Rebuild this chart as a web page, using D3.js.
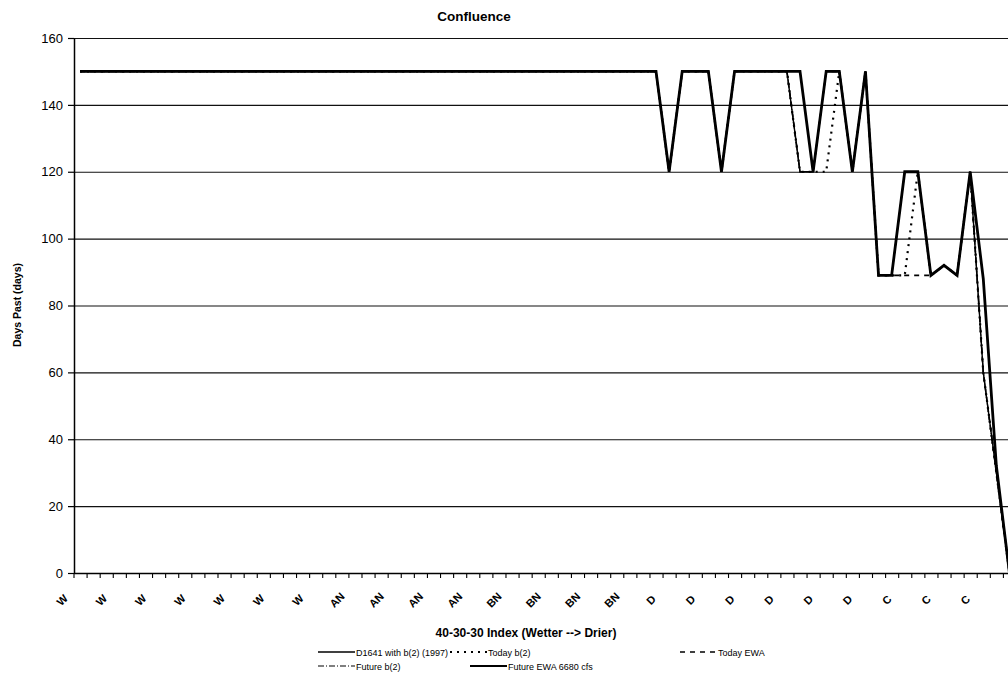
<!DOCTYPE html>
<html>
<head>
<meta charset="utf-8">
<script src="https://cdn.jsdelivr.net/npm/d3@7"></script>
<style>
  html, body { margin: 0; padding: 0; background: #fff; }
  svg { display: block; font-family: "Liberation Sans", Arial, sans-serif; }
  .xlab { transform-box: fill-box; transform-origin: center; }
</style>
</head>
<body>
<svg id="chart" width="1008" height="678"></svg>
<script>
// ---------------- DATA ----------------
const chartTitle = "Confluence";
const xTitle = "40-30-30 Index (Wetter --> Drier)";
const yTitle = "Days Past (days)";

// 72 ranked years (wetter -> drier); one label shown for every third year
const categories = d3.range(72);
const tickLabels = ["W","W","W","W","W","W","W","AN","AN","AN","AN","BN","BN","BN","BN","D","D","D","D","D","D","C","C","C"];
const yTicks = [0, 20, 40, 60, 80, 100, 120, 140, 160];

const d1641 = [150,150,150,150,150,150,150,150,150,150,150,150,150,150,150,150,150,150,150,150,150,150,150,150,
               150,150,150,150,150,150,150,150,150,150,150,150,150,150,150,150,150,150,150,150,150,120,150,150,
               150,120,150,150,150,150,150,120,120,150,150,120,150,89,89,120,120,89,92,89,120,60,30,0];
const todayB2 = [150,150,150,150,150,150,150,150,150,150,150,150,150,150,150,150,150,150,150,150,150,150,150,150,
                 150,150,150,150,150,150,150,150,150,150,150,150,150,150,150,150,150,150,150,150,150,120,150,150,
                 150,120,150,150,150,150,150,120,120,120,150,120,150,89,89,89,120,89,92,89,120,60,30,0];
const todayEWA = [150,150,150,150,150,150,150,150,150,150,150,150,150,150,150,150,150,150,150,150,150,150,150,150,
                  150,150,150,150,150,150,150,150,150,150,150,150,150,150,150,150,150,150,150,150,150,120,150,150,
                  150,120,150,150,150,150,150,120,120,150,150,120,150,89,89,89,89,89,92,89,120,60,30,0];
const futureB2 = [150,150,150,150,150,150,150,150,150,150,150,150,150,150,150,150,150,150,150,150,150,150,150,150,
                  150,150,150,150,150,150,150,150,150,150,150,150,150,150,150,150,150,150,150,150,150,120,150,150,
                  150,120,150,150,150,150,150,120,120,150,150,120,150,89,89,120,120,89,92,89,120,60,30,0];
const futureEWA = [150,150,150,150,150,150,150,150,150,150,150,150,150,150,150,150,150,150,150,150,150,150,150,150,
                   150,150,150,150,150,150,150,150,150,150,150,150,150,150,150,150,150,150,150,150,150,120,150,150,
                   150,120,150,150,150,150,150,150,120,150,150,120,150,89,89,120,120,89,92,89,120,88,32,0];

const seriesNames = ["D1641 with b(2) (1997)", "Today b(2)", "Today EWA", "Future b(2)", "Future EWA 6680 cfs"];
const seriesValues = [d1641, todayB2, todayEWA, futureB2, futureEWA];

// ---------------- STYLE ----------------
const seriesStyle = [
  { width: 1.4, dash: null },
  { width: 2.2, dash: "2,5" },
  { width: 1.6, dash: "5,5" },
  { width: 1.2, dash: "6,2,1,2" },
  { width: 2.8, dash: null }
];

const svg = d3.select("#chart");
const margin = { left: 74, top: 38, bottom: 573, right: 1016 };

const x = d3.scaleBand().domain(categories).range([margin.left - 0.5, margin.right]).paddingInner(0).paddingOuter(0);
const y = d3.scaleLinear().domain([0, 160]).range([margin.bottom, margin.top]);
const cx = i => x(i) + x.bandwidth() / 2;

// gridlines
svg.append("g")
  .attr("class", "grid")
  .attr("transform", `translate(${margin.left},0)`)
  .call(d3.axisLeft(y).tickValues(yTicks.filter(v => v > 0)).tickSize(-(1008 - margin.left)).tickFormat(""))
  .call(g => g.select(".domain").remove())
  .call(g => g.selectAll("line").attr("stroke", "#111").attr("stroke-width", 1.1));

// y axis
svg.append("g")
  .attr("transform", `translate(${margin.left},0)`)
  .call(d3.axisLeft(y).tickValues(yTicks).tickSize(6).tickPadding(5).tickSizeOuter(0))
  .call(g => g.select(".domain").attr("stroke", "#000").attr("stroke-width", 1.5))
  .call(g => g.selectAll("line").attr("stroke", "#000").attr("stroke-width", 1.2))
  .call(g => g.selectAll("text").attr("font-size", 13).attr("fill", "#000")
    .attr("font-family", "Liberation Sans, Arial, sans-serif"));

// x axis: tick marks at every category boundary
const boundaries = d3.range(73);
const xb = d3.scaleLinear().domain([0, 72]).range([margin.left - 0.5, margin.right]);
svg.append("g")
  .attr("transform", `translate(0,${margin.bottom})`)
  .call(d3.axisBottom(xb).tickValues(boundaries).tickSize(5).tickFormat("").tickSizeOuter(0))
  .call(g => g.select(".domain").attr("stroke", "#000").attr("stroke-width", 1.5))
  .call(g => g.selectAll("line").attr("stroke", "#000").attr("stroke-width", 1.1));

// x axis labels every third category (rotated -45deg about their centre)
const labelIdx = categories.filter(i => i % 3 === 0);
svg.append("g").selectAll("text.xlab")
  .data(labelIdx)
  .join("text")
  .attr("class", "xlab")
  .attr("x", i => cx(i) - 18)
  .attr("y", margin.bottom + 27)
  .attr("text-anchor", "middle")
  .attr("dy", "0.35em")
  .attr("font-size", 11)
  .attr("font-weight", "bold")
  .attr("fill", "#000")
  .style("transform", "rotate(-45deg)")
  .text(i => tickLabels[i / 3]);

// lines
const line = d3.line().x((d, i) => cx(i)).y(d => y(d));
seriesValues.forEach((vals, s) => {
  svg.append("path")
    .datum(vals)
    .attr("fill", "none")
    .attr("stroke", "#000")
    .attr("stroke-width", seriesStyle[s].width)
    .attr("stroke-dasharray", seriesStyle[s].dash)
    .attr("stroke-linejoin", "miter")
    .attr("d", line);
});

// titles
svg.append("text").attr("x", 474).attr("y", 21).attr("text-anchor", "middle")
  .attr("font-size", 13.5).attr("font-weight", "bold").text(chartTitle);
svg.append("text").attr("x", 526).attr("y", 637).attr("text-anchor", "middle")
  .attr("font-size", 12).attr("font-weight", "bold").text(xTitle);
svg.append("text").attr("transform", "translate(21,305) rotate(-90)").attr("text-anchor", "middle")
  .attr("font-size", 10.5).attr("font-weight", "bold").text(yTitle);

// legend
const legendPos = [
  { x: 318, y: 652 }, { x: 450, y: 652 }, { x: 680, y: 652 },
  { x: 318, y: 666 }, { x: 470, y: 666 }
];
const leg = svg.append("g");
seriesNames.forEach((name, s) => {
  const p = legendPos[s];
  leg.append("line").attr("x1", p.x).attr("x2", p.x + 37).attr("y1", p.y).attr("y2", p.y)
    .attr("stroke", "#000").attr("stroke-width", Math.min(seriesStyle[s].width, 2.2))
    .attr("stroke-dasharray", seriesStyle[s].dash);
  leg.append("text").attr("x", p.x + 38).attr("y", p.y + 3.5).attr("font-size", 9)
    .text(name);
});
</script>
</body>
</html>
